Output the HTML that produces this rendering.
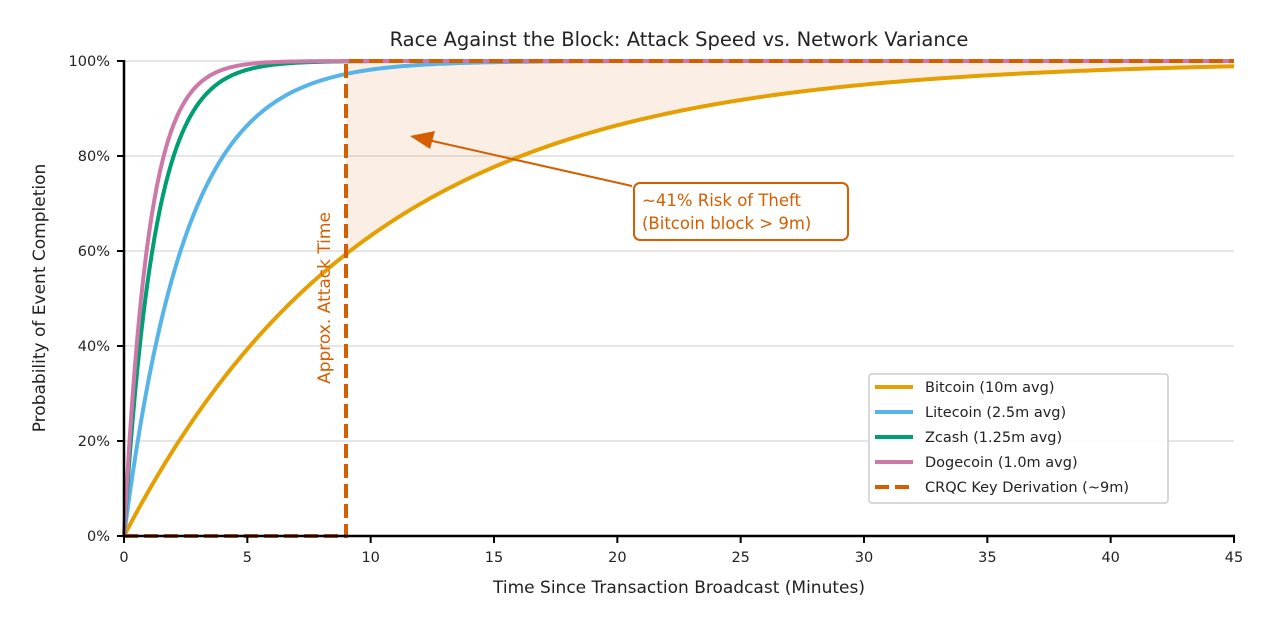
<!DOCTYPE html>
<html><head><meta charset="utf-8"><style>
html,body{margin:0;padding:0;background:#fff;}
svg{display:block;font-family:"DejaVu Sans","Liberation Sans",sans-serif;}
</style></head><body>
<svg id="s" width="1280" height="634" viewBox="0 0 1280 634" xmlns="http://www.w3.org/2000/svg">
<g stroke="#e6e6e6" stroke-width="2">
<line x1="124" x2="1234" y1="441" y2="441"/><line x1="124" x2="1234" y1="346" y2="346"/>
<line x1="124" x2="1234" y1="251" y2="251"/><line x1="124" x2="1234" y1="156" y2="156"/>
<line x1="124" x2="1234" y1="61" y2="61"/>
</g>
<path id="fill" fill="#D55E00" fill-opacity="0.1"/>
<g id="curves" fill="none" stroke-width="4"></g>
<g stroke="#D55E00" stroke-width="4" stroke-dasharray="14,6" fill="none">
<polyline points="124,536 346,536 346,61 1234,61"/>
</g>
<text x="0" y="0" transform="translate(330,298) rotate(-90)" text-anchor="middle" font-size="17" fill="#D55E00">Approx. Attack Time</text>
<line x1="632" y1="186" x2="428" y2="140" stroke="#D55E00" stroke-width="2"/>
<polygon points="410,136 435,131 430,149" fill="#D55E00"/>
<rect x="634" y="183" width="214" height="57" rx="6" fill="#fff" stroke="#D55E00" stroke-width="2"/>
<text x="642" y="206" font-size="16.5" fill="#D55E00">~41% Risk of Theft</text>
<text x="642" y="229" font-size="16.5" fill="#D55E00">(Bitcoin block &gt; 9m)</text>
<g stroke="#000" stroke-width="2.5"><line x1="124" y1="60" x2="124" y2="537"/><line x1="123" y1="536" x2="1235" y2="536"/></g>
<g id="ticks" stroke="#000" stroke-width="2"></g>
<g id="tl" font-size="14.5" fill="#222"></g>
<text x="679" y="46" text-anchor="middle" font-size="19.5" fill="#222">Race Against the Block: Attack Speed vs. Network Variance</text>
<text x="679" y="593" text-anchor="middle" font-size="17" fill="#222">Time Since Transaction Broadcast (Minutes)</text>
<text transform="translate(45,298) rotate(-90)" text-anchor="middle" font-size="17" fill="#222">Probability of Event Completion</text>
<rect x="869" y="374" width="299" height="129" rx="3" fill="#fff" fill-opacity="0.9" stroke="#ccc" stroke-width="1.5"/>
<g stroke-width="4">
<line x1="875" x2="913" y1="387" y2="387" stroke="#E69F00"/>
<line x1="875" x2="913" y1="412" y2="412" stroke="#56B4E9"/>
<line x1="875" x2="913" y1="437" y2="437" stroke="#009E73"/>
<line x1="875" x2="913" y1="462" y2="462" stroke="#CC79A7"/>
<line x1="875" x2="913" y1="487" y2="487" stroke="#D55E00" stroke-dasharray="14,6"/>
</g>
<g font-size="14.5" fill="#222">
<text x="925" y="392">Bitcoin (10m avg)</text>
<text x="925" y="417">Litecoin (2.5m avg)</text>
<text x="925" y="442">Zcash (1.25m avg)</text>
<text x="925" y="467">Dogecoin (1.0m avg)</text>
<text x="925" y="492">CRQC Key Derivation (~9m)</text>
</g>
</svg>
<script>
var X=function(t){return 124+t*1110/45},Y=function(p){return 536-p*475};
var ns="http://www.w3.org/2000/svg";
function cp(tau,a,b){var d="";for(var i=0;i<=400;i++){var t=a+(b-a)*i/400;d+=(i?"L":"M")+X(t).toFixed(2)+","+Y(1-Math.exp(-t/tau)).toFixed(2);}return d;}
var f=cp(10,9,45)+"L"+X(45)+","+Y(1)+"L"+X(9)+","+Y(1)+"Z";
document.getElementById("fill").setAttribute("d",f);
var g=document.getElementById("curves");
[[10,"#E69F00"],[2.5,"#56B4E9"],[1.25,"#009E73"],[1,"#CC79A7"]].forEach(function(c){var p=document.createElementNS(ns,"path");p.setAttribute("d",cp(c[0],0,45));p.setAttribute("stroke",c[1]);g.appendChild(p);});
var tk=document.getElementById("ticks"),tl=document.getElementById("tl");
for(var t=0;t<=45;t+=5){var l=document.createElementNS(ns,"line");l.setAttribute("x1",X(t));l.setAttribute("x2",X(t));l.setAttribute("y1",536);l.setAttribute("y2",543);tk.appendChild(l);
var s=document.createElementNS(ns,"text");s.setAttribute("x",X(t));s.setAttribute("y",562);s.setAttribute("text-anchor","middle");s.textContent=t;tl.appendChild(s);}
for(var p=0;p<=100;p+=20){var y=Y(p/100);var l=document.createElementNS(ns,"line");l.setAttribute("x1",117);l.setAttribute("x2",124);l.setAttribute("y1",y);l.setAttribute("y2",y);tk.appendChild(l);
var s=document.createElementNS(ns,"text");s.setAttribute("x",110);s.setAttribute("y",y+5);s.setAttribute("text-anchor","end");s.textContent=p+"%";tl.appendChild(s);}
</script>
</body></html>
